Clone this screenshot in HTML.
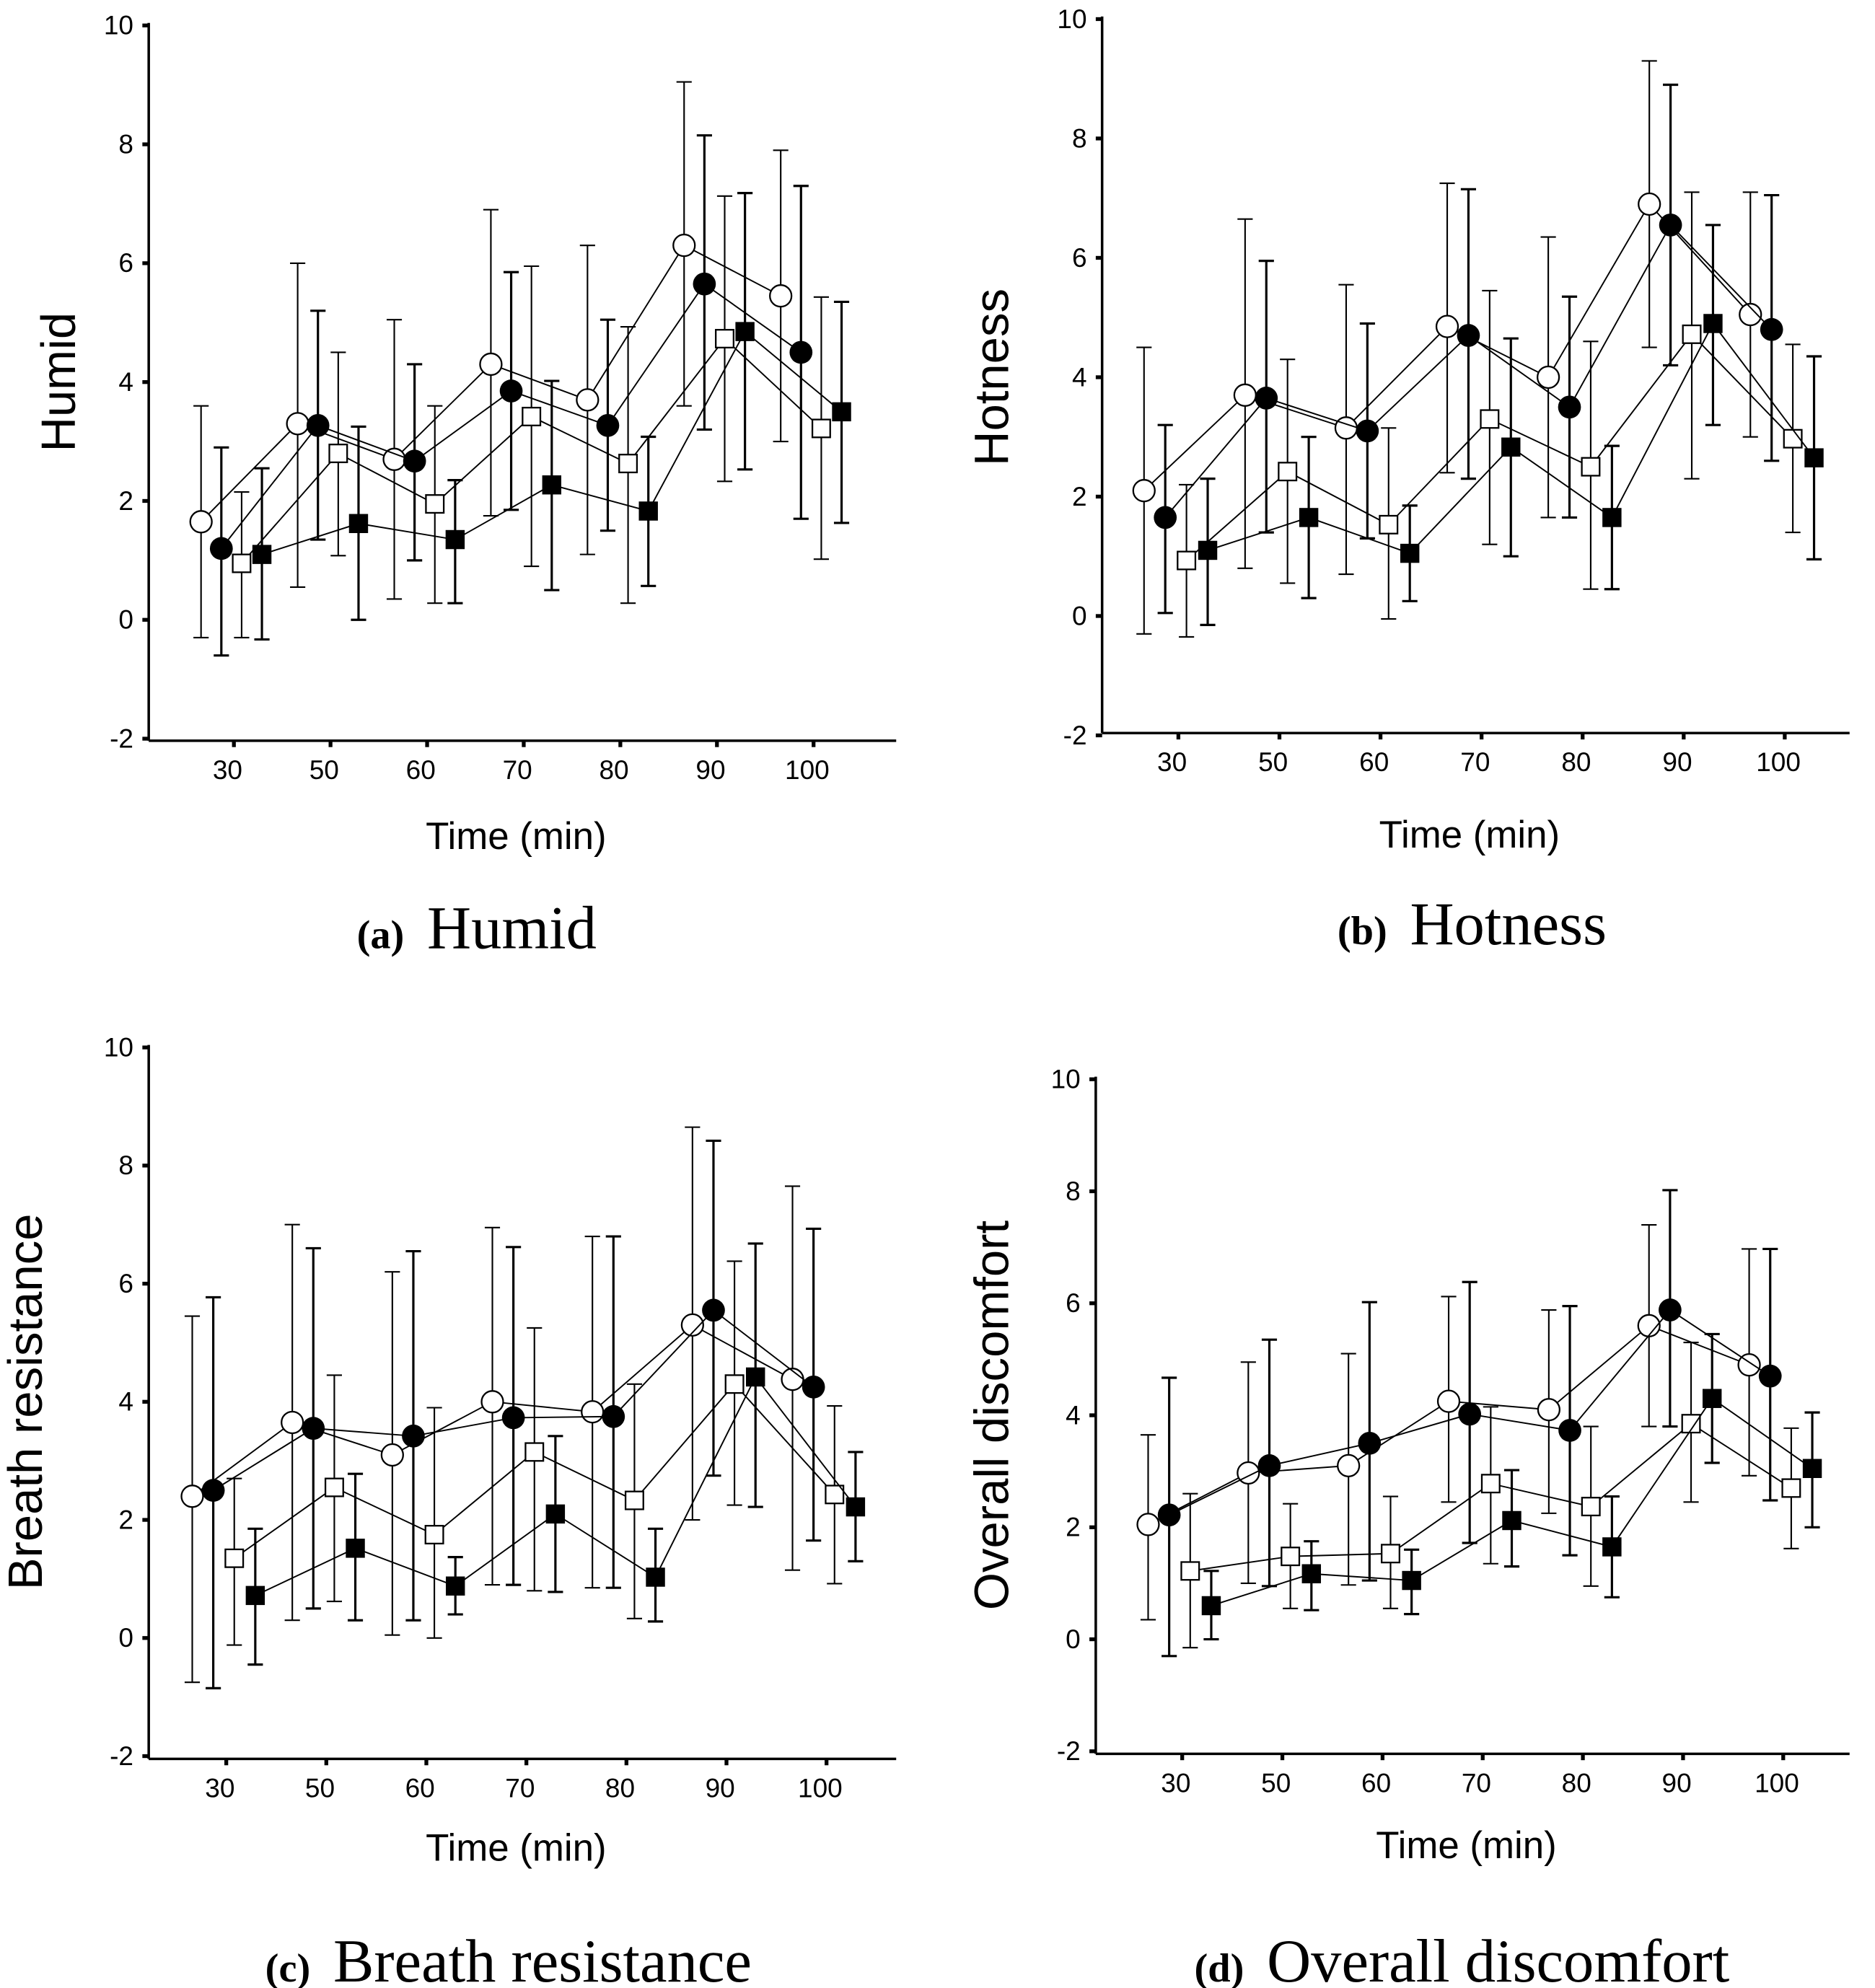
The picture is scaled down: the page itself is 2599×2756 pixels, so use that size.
<!DOCTYPE html>
<html><head><meta charset="utf-8"><style>
html,body{margin:0;padding:0;background:#fff;}
svg{display:block;}
</style></head><body>
<svg id="fig" width="2599" height="2756" viewBox="0 0 1475 1562" preserveAspectRatio="none" xmlns="http://www.w3.org/2000/svg"></svg>
<script>
const categories = ["30","50","60","70","80","90","100"];
const yTicks = [10,8,6,4,2,0,-2];
const seriesNames = ["open-circle","filled-circle","open-square","filled-square"];

// Panel a: Humid
const humidOpenCircle = [1.65,3.3,2.7,4.3,3.7,6.3,5.45];
const humidOpenCircleLo = [-0.3,0.55,0.35,1.75,1.1,3.6,3.0];
const humidOpenCircleHi = [3.6,6.0,5.05,6.9,6.3,9.05,7.9];
const humidFilledCircle = [1.2,3.27,2.67,3.85,3.27,5.65,4.5];
const humidFilledCircleLo = [-0.6,1.35,1.0,1.85,1.5,3.2,1.7];
const humidFilledCircleHi = [2.9,5.2,4.3,5.85,5.05,8.15,7.3];
const humidOpenSquare = [0.95,2.8,1.95,3.42,2.63,4.73,3.22];
const humidOpenSquareLo = [-0.3,1.08,0.28,0.9,0.28,2.33,1.02];
const humidOpenSquareHi = [2.15,4.5,3.6,5.95,4.93,7.13,5.43];
const humidFilledSquare = [1.1,1.62,1.35,2.27,1.83,4.85,3.5];
const humidFilledSquareLo = [-0.33,0,0.28,0.5,0.57,2.53,1.63];
const humidFilledSquareHi = [2.55,3.25,2.35,4.02,3.08,7.18,5.35];

// Panel b: Hotness
const hotOpenCircle = [2.1,3.7,3.15,4.85,4.0,6.9,5.05];
const hotOpenCircleLo = [-0.3,0.8,0.7,2.4,1.65,4.5,3.0];
const hotOpenCircleHi = [4.5,6.65,5.55,7.25,6.35,9.3,7.1];
const hotFilledCircle = [1.65,3.65,3.1,4.7,3.5,6.55,4.8];
const hotFilledCircleLo = [0.05,1.4,1.3,2.3,1.65,4.2,2.6];
const hotFilledCircleHi = [3.2,5.95,4.9,7.15,5.35,8.9,7.05];
const hotOpenSquare = [0.93,2.42,1.53,3.3,2.5,4.72,2.97];
const hotOpenSquareLo = [-0.35,0.55,-0.05,1.2,0.45,2.3,1.4];
const hotOpenSquareHi = [2.2,4.3,3.15,5.45,4.6,7.1,4.55];
const hotFilledSquare = [1.1,1.65,1.05,2.83,1.65,4.9,2.65];
const hotFilledSquareLo = [-0.15,0.3,0.25,1.0,0.45,3.2,0.95];
const hotFilledSquareHi = [2.3,3.0,1.85,4.65,2.85,6.55,4.35];

// Panel c: Breath resistance
const brOpenCircle = [2.4,3.65,3.1,4.0,3.83,5.3,4.38];
const brOpenCircleLo = [-0.75,0.3,0.05,0.9,0.85,2.0,1.15];
const brOpenCircleHi = [5.45,7.0,6.2,6.95,6.8,8.65,7.65];
const brFilledCircle = [2.5,3.55,3.42,3.73,3.75,5.55,4.25];
const brFilledCircleLo = [-0.85,0.5,0.3,0.9,0.85,2.75,1.65];
const brFilledCircleHi = [5.77,6.6,6.55,6.62,6.8,8.42,6.93];
const brOpenSquare = [1.35,2.55,1.75,3.15,2.33,4.3,2.43];
const brOpenSquareLo = [-0.12,0.62,0.0,0.8,0.33,2.25,0.92];
const brOpenSquareHi = [2.7,4.45,3.9,5.25,4.3,6.38,3.93];
const brFilledSquare = [0.72,1.52,0.88,2.1,1.03,4.42,2.22];
const brFilledSquareLo = [-0.45,0.3,0.4,0.78,0.28,2.22,1.3];
const brFilledSquareHi = [1.85,2.78,1.37,3.42,1.85,6.68,3.15];

// Panel d: Overall discomfort
const odOpenCircle = [2.05,2.97,3.1,4.25,4.1,5.6,4.9];
const odOpenCircleLo = [0.35,1.0,0.97,2.45,2.25,3.8,2.92];
const odOpenCircleHi = [3.65,4.95,5.1,6.12,5.88,7.4,6.97];
const odFilledCircle = [2.22,3.1,3.5,4.02,3.73,5.88,4.7];
const odFilledCircleLo = [-0.3,0.95,1.05,1.72,1.5,3.8,2.48];
const odFilledCircleHi = [4.67,5.35,6.02,6.38,5.95,8.02,6.97];
const odOpenSquare = [1.22,1.48,1.53,2.78,2.37,3.85,2.7];
const odOpenSquareLo = [-0.15,0.55,0.55,1.35,0.95,2.45,1.62];
const odOpenSquareHi = [2.6,2.42,2.55,4.15,3.8,5.3,3.77];
const odFilledSquare = [0.6,1.17,1.05,2.12,1.65,4.3,3.05];
const odFilledSquareLo = [0.0,0.52,0.45,1.3,0.75,3.15,2.0];
const odFilledSquareHi = [1.22,1.75,1.6,3.02,2.55,5.45,4.05];

const NS = "http://www.w3.org/2000/svg";
const svg = document.getElementById("fig");
function mk(tag, attrs, parent){
  const e = document.createElementNS(NS, tag);
  for (const k in attrs) e.setAttribute(k, attrs[k]);
  (parent||svg).appendChild(e);
  return e;
}

const panels = [
  {id:"humid", letter:"a", title:"Humid", ax:117, xEnd:705, y10:20, y0:487, axisY:582, t0:184, sp:76, ytx:46, capX:375, capY:745, xtY:667,
   s:[[humidOpenCircle,humidOpenCircleLo,humidOpenCircleHi],[humidFilledCircle,humidFilledCircleLo,humidFilledCircleHi],[humidOpenSquare,humidOpenSquareLo,humidOpenSquareHi],[humidFilledSquare,humidFilledSquareLo,humidFilledSquareHi]]},
  {id:"hotness", letter:"b", title:"Hotness", ax:867, xEnd:1455, y10:15, y0:484, axisY:576, t0:927, sp:79.5, ytx:780, capX:1158, capY:742, xtY:666,
   s:[[hotOpenCircle,hotOpenCircleLo,hotOpenCircleHi],[hotFilledCircle,hotFilledCircleLo,hotFilledCircleHi],[hotOpenSquare,hotOpenSquareLo,hotOpenSquareHi],[hotFilledSquare,hotFilledSquareLo,hotFilledSquareHi]]},
  {id:"breath-resistance", letter:"c", title:"Breath resistance", ax:117, xEnd:705, y10:823, y0:1287, axisY:1382, t0:178, sp:78.7, ytx:20, capX:400, capY:1557, xtY:1462,
   s:[[brOpenCircle,brOpenCircleLo,brOpenCircleHi],[brFilledCircle,brFilledCircleLo,brFilledCircleHi],[brOpenSquare,brOpenSquareLo,brOpenSquareHi],[brFilledSquare,brFilledSquareLo,brFilledSquareHi]]},
  {id:"overall-discomfort", letter:"d", title:"Overall discomfort", ax:862, xEnd:1455, y10:848, y0:1288, axisY:1378, t0:930, sp:78.8, ytx:780, capX:1150, capY:1557, xtY:1460,
   s:[[odOpenCircle,odOpenCircleLo,odOpenCircleHi],[odFilledCircle,odFilledCircleLo,odFilledCircleHi],[odOpenSquare,odOpenSquareLo,odOpenSquareHi],[odFilledSquare,odFilledSquareLo,odFilledSquareHi]]}
];
const offsets = [-0.34,-0.13,0.08,0.29];

panels.forEach(p => {
  const g = mk("g", {});
  
  
  const unit = (p.y0 - p.y10) / 10;
  const yS = v => p.y0 - v * unit;
  const xS = i => p.t0 + i * p.sp;
  const yBottom = yS(-2);
  const ya = mk("line", {x1:p.ax, y1:yS(10)-2, x2:p.ax, y2:p.axisY, stroke:"#000","stroke-width":2}, g);
  
  
  const xa = mk("line", {x1:p.ax, y1:p.axisY, x2:p.xEnd, y2:p.axisY, stroke:"#000","stroke-width":2}, g);
  
  
  yTicks.forEach(t => {
    mk("line", {x1:p.ax-5, y1:yS(t), x2:p.ax, y2:yS(t), stroke:"#000","stroke-width":3}, g);
    const tl = mk("text", {x:p.ax-12, y:yS(t)+7, "text-anchor":"end", "font-family":"Liberation Sans, sans-serif", "font-size":21}, g);
    tl.textContent = t;
    
    
  });
  categories.forEach((c, i) => {
    mk("line", {x1:xS(i), y1:p.axisY, x2:xS(i), y2:p.axisY+5, stroke:"#000","stroke-width":3}, g);
    const tl = mk("text", {x:xS(i)-5, y:p.axisY+30, "text-anchor":"middle", "font-family":"Liberation Sans, sans-serif", "font-size":21}, g);
    tl.textContent = c;
    
    
  });
  const xt = mk("text", {x:(p.ax+p.xEnd)/2 - 5, y:p.xtY, "text-anchor":"middle", "font-family":"Liberation Sans, sans-serif", "font-size":30}, g);
  xt.textContent = "Time (min)";
  
  
  const ymid = (yS(10) + yBottom) / 2;
  const yt = mk("text", {x:p.ytx, y:ymid, "text-anchor":"middle", "font-family":"Liberation Sans, sans-serif", "font-size":38, transform:`rotate(-90 ${p.ytx} ${ymid})`, dy:13}, g);
  yt.textContent = p.title;
  
  
  const cap = mk("text", {x:p.capX, y:p.capY, "text-anchor":"middle", "font-family":"Liberation Serif, serif", "font-size":48}, g);
  
  
  const b = mk("tspan", {"font-weight":"bold","font-size":32}, cap);
  b.textContent = "(" + p.letter + ")";
  const t2 = mk("tspan", {dx:18}, cap);
  t2.textContent = p.title;

  p.s.forEach((ser, si) => {
    const [vals, lo, hi] = ser;
    const sg = mk("g", {}, g);
    
    
    const pts = vals.map((v, i) => [xS(i + offsets[si]), yS(v)]);
    const line = mk("polyline", {points: pts.map(q => q.join(",")).join(" "), fill:"none", stroke:"#000", "stroke-width":1.1}, sg);
    
    
    vals.forEach((v, i) => {
      const x = xS(i + offsets[si]);
      const eb = mk("path", {d:`M${x-6},${yS(hi[i])}H${x+6}M${x},${yS(hi[i])}V${yS(lo[i])}M${x-6},${yS(lo[i])}H${x+6}`, stroke:"#000", "stroke-width": si%2 ? 1.8 : 1.2, fill:"none"}, sg);
      
      
      let m;
      if (si === 0) m = mk("circle", {cx:x, cy:yS(v), r:8.5, fill:"#fff", stroke:"#000", "stroke-width":1.3}, sg);
      else if (si === 1) m = mk("circle", {cx:x, cy:yS(v), r:9, fill:"#000"}, sg);
      else if (si === 2) m = mk("rect", {x:x-7, y:yS(v)-7, width:14, height:14, fill:"#fff", stroke:"#000", "stroke-width":1.3}, sg);
      else m = mk("rect", {x:x-7.5, y:yS(v)-7.5, width:15, height:15, fill:"#000"}, sg);
      
      
    });
  });
});
</script>
</body></html>
